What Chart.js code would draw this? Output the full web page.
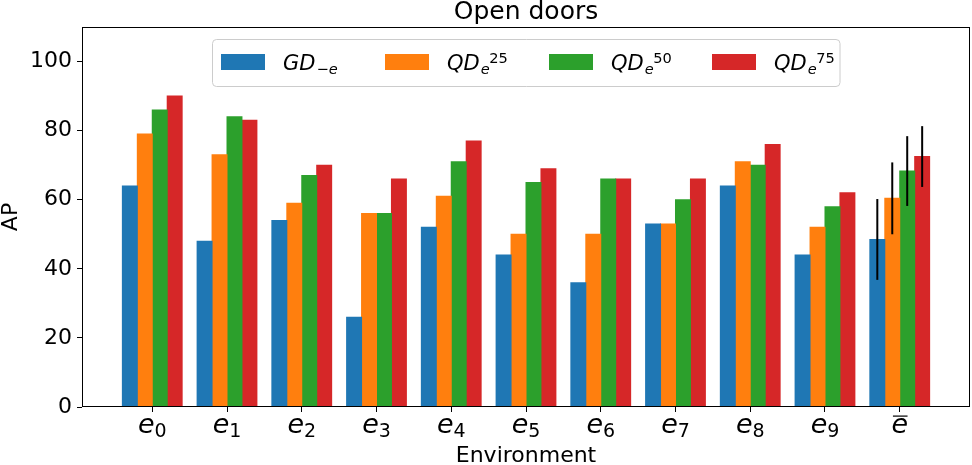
<!DOCTYPE html>
<html>
<head>
<meta charset="utf-8">
<script src="https://cdn.jsdelivr.net/npm/chart.js@4.4.1/dist/chart.umd.min.js"></script>
<style>
  html, body { margin: 0; padding: 0; background: #fff; }
  canvas { display: block; }
</style>
</head>
<body>
<canvas id="openDoors" width="972" height="465"></canvas>
<script>
// environment subscripts; '' = mean over environments (drawn as e with overline)
const envSubs = ['0', '1', '2', '3', '4', '5', '6', '7', '8', '9', ''];

// AP per environment, last value is the mean
const gdMinusE = [64, 48, 54, 26, 52, 44, 36, 53, 64, 44, 48.5];
const qd25 = [79, 73, 59, 56, 61, 50, 50, 53, 71, 52, 60.4];
const qd50 = [86, 84, 67, 56, 71, 65, 66, 60, 70, 58, 68.3];
const qd75 = [90, 83, 70, 66, 77, 69, 66, 66, 76, 62, 72.5];

// error bars on the mean group (one per series)
const meanErr = [11.7, 10.4, 10.1, 8.8];

// y ticks
const yTicks = [0, 20, 40, 60, 80, 100];

// legend labels as math pieces: base, subscript, superscript
const seriesBase = ['GD', 'QD', 'QD', 'QD'];
const seriesSub = ['\u2212e', 'e', 'e', 'e'];
const seriesSup = ['', '25', '50', '75'];
const seriesColors = ['#1f77b4', '#ff7f0e', '#2ca02c', '#d62728'];

const FONT = "'DejaVu Sans'";

function toPoints(values) {
    return values.map((v, i) => ({ x: i, y: v }));
}

const allSeries = [gdMinusE, qd25, qd50, qd75];

// Marco completo del área de la gráfica (estilo matplotlib)
const framePlugin = {
    id: 'frame',
    afterDatasetsDraw(chart) {
        const { ctx, chartArea: a } = chart;
        ctx.save();
        ctx.strokeStyle = '#000';
        ctx.lineWidth = 1;
        ctx.strokeRect(Math.round(a.left) + 0.5, Math.round(a.top) + 0.5,
            Math.round(a.right - a.left) - 1, Math.round(a.bottom - a.top) - 1);
        ctx.restore();
    }
};

// Barras de error en el grupo de la media
const errorBarPlugin = {
    id: 'errorBars',
    afterDatasetsDraw(chart) {
        const { ctx } = chart;
        const y = chart.scales.y;
        const idx = envSubs.length - 1;
        ctx.save();
        ctx.strokeStyle = '#000';
        ctx.lineWidth = 2;
        chart.data.datasets.forEach((ds, i) => {
            const bar = chart.getDatasetMeta(i).data[idx];
            const v = allSeries[i][idx];
            const e = meanErr[i];
            ctx.beginPath();
            ctx.moveTo(bar.x, y.getPixelForValue(v - e));
            ctx.lineTo(bar.x, y.getPixelForValue(v + e));
            ctx.stroke();
        });
        ctx.restore();
    }
};

// Etiquetas del eje x con subíndices
const mathTicksPlugin = {
    id: 'mathTicks',
    afterDraw(chart) {
        const { ctx, chartArea: a } = chart;
        const x = chart.scales.x;
        const mainFont = 'italic 27px ' + FONT;
        const subFont = '19px ' + FONT;
        const base = a.bottom + 26;
        ctx.save();
        ctx.fillStyle = '#000';
        ctx.textBaseline = 'alphabetic';
        ctx.textAlign = 'left';
        envSubs.forEach((sub, i) => {
            const px = x.getPixelForValue(i);
            ctx.font = mainFont;
            const wE = ctx.measureText('e').width;
            if (sub === '') {
                const start = px - wE / 2;
                ctx.fillText('e', start, base);
                ctx.fillRect(start + 1.5, a.bottom + 8.5, wE - 2, 1.2);
                return;
            }
            ctx.font = subFont;
            const wS = ctx.measureText(sub).width;
            const start = px - (wE + wS) / 2;
            ctx.font = mainFont;
            ctx.fillText('e', start, base);
            ctx.font = subFont;
            ctx.fillText(sub, start + wE, base + 4);
        });
        ctx.restore();
    }
};

// Leyenda con notación matemática
const mathLegendPlugin = {
    id: 'mathLegend',
    afterDraw(chart) {
        const { ctx } = chart;
        const box = { x: 212.5, y: 39.5, w: 627.5, h: 47, r: 4 };
        const patchX = [221, 385, 549, 712];
        ctx.save();
        ctx.beginPath();
        ctx.roundRect(box.x, box.y, box.w, box.h, box.r);
        ctx.fillStyle = 'rgba(255,255,255,0.8)';
        ctx.fill();
        ctx.strokeStyle = '#cccccc';
        ctx.lineWidth = 1;
        ctx.stroke();

        ctx.textAlign = 'left';
        ctx.textBaseline = 'alphabetic';
        const mainFont = 'italic 21px ' + FONT;
        const smallItalic = 'italic 14.6px ' + FONT;
        const smallUpright = '14.6px ' + FONT;
        seriesBase.forEach((b, i) => {
            const px = patchX[i];
            ctx.fillStyle = seriesColors[i];
            ctx.fillRect(px, 54, 44, 16);
            ctx.fillStyle = '#000';
            let tx = px + 62;
            ctx.font = mainFont;
            ctx.fillText(b, tx, 70);
            tx += ctx.measureText(b).width;
            // subíndice
            let sx = tx + 1;
            for (const ch of seriesSub[i]) {
                ctx.font = /[a-z]/i.test(ch) ? smallItalic : smallUpright;
                ctx.fillText(ch, sx, 73.5);
                sx += ctx.measureText(ch).width;
            }
            // superíndice
            if (seriesSup[i]) {
                ctx.font = smallUpright;
                ctx.fillText(seriesSup[i], tx + 9.5, 62.8);
            }
        });
        ctx.restore();
    }
};

new Chart(document.getElementById('openDoors'), {
    type: 'bar',
    data: {
        datasets: allSeries.map((values, i) => ({
            label: seriesBase[i] + seriesSub[i] + seriesSup[i],
            data: toPoints(values),
            backgroundColor: seriesColors[i],
            borderWidth: 0,
            inflateAmount: 0.5,
            categoryPercentage: 0.8,
            barPercentage: 1.0
        }))
    },
    options: {
        responsive: false,
        animation: false,
        devicePixelRatio: 1,
        layout: { padding: { left: 0, right: 2, top: 0, bottom: 0 } },
        plugins: {
            legend: { display: false },
            tooltip: { enabled: false },
            title: {
                display: true,
                fullSize: false,
                text: 'Open doors',
                color: '#000',
                font: { family: FONT, size: 25, weight: 'normal', lineHeight: 1 },
                padding: { top: 0, bottom: 2 }
            }
        },
        scales: {
            x: {
                type: 'linear',
                offset: false,
                min: -0.94,
                max: envSubs.length - 1 + 0.94,
                afterBuildTicks(scale) {
                    scale.ticks = envSubs.map((_, i) => ({ value: i }));
                },
                afterFit(scale) {
                    scale.height = 58;
                },
                ticks: { callback: () => '' },
                grid: { offset: false, drawOnChartArea: false, color: '#000', tickLength: 5, lineWidth: 1 },
                border: { display: false },
                title: {
                    display: true,
                    text: 'Environment',
                    color: '#000',
                    font: { family: FONT, size: 22, lineHeight: 0.75 },
                    padding: 0
                }
            },
            y: {
                min: 0,
                max: 110,
                afterBuildTicks(scale) {
                    scale.ticks = yTicks.map(v => ({ value: v }));
                },
                afterFit(scale) {
                    scale.width = 82;
                },
                ticks: {
                    color: '#000',
                    font: { family: FONT, size: 22 },
                    padding: 5
                },
                grid: { drawOnChartArea: false, color: '#000', tickLength: 5, lineWidth: 1 },
                border: { display: false },
                title: {
                    display: true,
                    text: 'AP',
                    color: '#000',
                    font: { family: FONT, size: 22, lineHeight: 1 },
                    padding: 0
                }
            }
        }
    },
    plugins: [framePlugin, errorBarPlugin, mathTicksPlugin, mathLegendPlugin]
});
</script>
</body>
</html>
